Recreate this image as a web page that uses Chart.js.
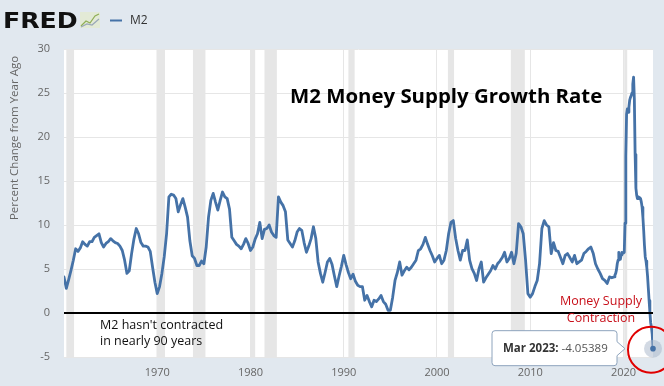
<!DOCTYPE html>
<html>
<head>
<meta charset="utf-8">
<script src="https://cdn.jsdelivr.net/npm/chart.js@4.4.0/dist/chart.umd.min.js"></script>
<style>
  html, body { margin: 0; padding: 0; background: #e1e8ef; }
  canvas { display: block; }
</style>
</head>
<body>
<canvas id="m2Chart" width="664" height="386"></canvas>
<script>
// M2 money stock, percent change from year ago
const START_YEAR = 1960;          // quarterly points, Jan / Apr / Jul / Oct
const quarterlyGrowth = [
  4.1, 2.8, 3.8, 4.85,   6.0, 7.3, 7.0, 7.4,    8.1, 7.8, 7.6, 8.1,    8.1, 8.6, 8.8, 9.0,
  8.0, 7.5, 7.9, 8.1,    8.45, 8.2, 8.0, 7.9,   7.6, 7.1, 6.0, 4.5,    4.8, 6.75, 8.4, 9.6,
  9.0, 8.0, 7.6, 7.6,    7.5, 7.0, 5.2, 3.5,    2.2, 3.0, 4.5, 6.4,    9.0, 13.2, 13.5, 13.4,
  13.0, 11.5, 12.3, 13.0, 12.0, 10.9, 8.2, 6.5, 6.2, 5.4, 5.4, 5.9,    5.6, 7.5, 10.9, 12.8,
  13.6, 12.6, 11.7, 12.8, 13.75, 13.2, 13.0, 11.8, 8.6, 8.2, 7.8, 7.6, 7.3, 7.8, 8.45, 7.9,
  7.1, 7.5, 8.4, 9.0,    10.3, 8.45, 9.5, 9.6,  10.0, 9.2, 8.8, 8.6,   13.2, 12.6, 12.2, 11.5,
  8.3, 7.9, 7.5, 8.2,    9.2, 9.6, 9.4, 8.0,    6.9, 7.6, 8.45, 9.8,   8.5, 5.8, 4.5, 3.5,
  4.6, 5.8, 6.2, 5.5,    4.2, 3.0, 4.2, 5.3,    6.55, 5.5, 4.6, 3.9,   4.4, 3.6, 3.15, 3.0,
  3.0, 1.45, 2.0, 1.3,   0.7, 1.45, 1.3, 1.6,   2.0, 1.3, 1.0, 0.3,    0.3, 1.8, 3.7, 4.6,
  5.8, 4.3, 4.8, 5.2,    4.9, 5.2, 5.6, 6.0,    7.1, 7.3, 7.8, 8.6,    7.8, 7.1, 6.5, 5.8,
  6.2, 6.55, 5.6, 6.0,   7.1, 9.0, 10.3, 10.5,  8.5, 7.1, 6.0, 7.1,    7.1, 8.3, 6.0, 5.05,
  4.5, 3.7, 5.0, 5.8,    3.5, 4.0, 4.4, 4.8,    5.4, 5.0, 5.6, 5.9,    6.3, 6.9, 5.8, 6.2,
  6.9, 5.6, 6.8, 10.15,  9.8, 9.0, 6.0, 2.2,    1.8, 2.2, 3.0, 3.7,    5.6, 9.6, 10.5, 10.0,
  9.8, 6.75, 8.0, 7.1,   7.0, 6.3, 5.6, 6.55,   6.75, 6.3, 5.8, 6.55,  5.6, 5.8, 6.0, 6.75,
  7.0, 7.3, 7.5, 6.8,    5.6, 5.0, 4.5, 3.9,    3.7, 3.35, 4.1, 4.0
];
const MONTHLY_START = 2019;       // monthly points, Jan 2019 .. Mar 2023
const monthlyGrowth = [
  4.1, 4.3, 4.5, 4.9, 5.6, 6.0, 6.9, 6.3, 6.1, 6.6, 6.9, 6.8,
  6.8, 6.9, 10.2, 17.8, 22.6, 23.2, 22.8, 23.4, 24.2, 24.5, 24.7, 25.0,
  26.0, 26.8, 24.3, 18.0, 14.2, 13.4, 13.0, 13.2, 13.0, 13.1, 13.0, 12.6,
  12.0, 10.9, 9.4, 7.7, 6.4, 5.9, 5.2, 4.2, 2.8, 1.4, 0.1, -1.1,
  -1.6, -2.4, -4.05389
];
const xTickYears = [1970, 1980, 1990, 2000, 2010, 2020];
const yTickValues = [-5, 0, 5, 10, 15, 20, 25, 30];
// NBER recessions, decimal years
const recessions = [
  [1960.25, 1961.08], [1969.92, 1970.83], [1973.83, 1975.17], [1980.0, 1980.5],
  [1981.5, 1982.83], [1990.5, 1991.17], [2001.17, 2001.83], [2007.92, 2009.42],
  [2020.08, 2020.25]
];
const lastLabel = 'Mar 2023:';
const lastText = '-4.05389';

const LINE_BLUE = '#4572a7';
const PAGE_BG = '#e1e8ef';
const GRID = '#e6e6e6';
const TEXT_GRAY = '#666';
const RED = '#c8101a';

const points = quarterlyGrowth.map((v, i) => ({ x: START_YEAR + i / 4, y: v }))
  .concat(monthlyGrowth.map((v, i) => ({ x: MONTHLY_START + i / 12, y: v })));
const lastPoint = points[points.length - 1];

// ── background, plot area, recession bars ──
const backdrop = {
  id: 'backdrop',
  beforeDraw(chart) {
    const { ctx, chartArea: a, scales: { x } } = chart;
    ctx.save();
    ctx.fillStyle = PAGE_BG;
    ctx.fillRect(0, 0, chart.width, chart.height);
    ctx.fillStyle = '#fff';
    ctx.fillRect(a.left, a.top, a.right - a.left, a.bottom - a.top);
    ctx.fillStyle = '#e6e6e6';
    recessions.forEach(([s, e]) => {
      const x1 = x.getPixelForValue(s), x2 = x.getPixelForValue(e);
      ctx.fillRect(x1, a.top, Math.max(x2 - x1, 3), a.bottom - a.top);
    });
    ctx.restore();
  }
};

// ── header, notes, highlight of the last observation ──
const overlay = {
  id: 'overlay',
  afterDraw(chart) {
    const { ctx, chartArea: a, scales: { x, y } } = chart;
    ctx.save();

    // zero line
    const y0 = y.getPixelForValue(0);
    ctx.strokeStyle = '#000';
    ctx.lineWidth = 1.8;
    ctx.beginPath();
    ctx.moveTo(a.left, y0);
    ctx.lineTo(a.right, y0);
    ctx.stroke();

    // y axis title
    ctx.save();
    ctx.translate(15, 138);
    ctx.rotate(-Math.PI / 2);
    ctx.fillStyle = TEXT_GRAY;
    ctx.font = '11.5px "Open Sans"';
    ctx.textAlign = 'center';
    ctx.textBaseline = 'middle';
    ctx.fillText('Percent Change from Year Ago', 0, 0);
    ctx.restore();

    // title
    ctx.fillStyle = '#000';
    ctx.font = 'bold 20.4px "Open Sans"';
    ctx.textAlign = 'left';
    ctx.textBaseline = 'middle';
    ctx.fillText('M2 Money Supply Growth Rate', 290, 97);

    // notes
    ctx.font = '12.5px "Open Sans"';
    ctx.fillStyle = '#111';
    ctx.fillText("M2 hasn't contracted", 100, 325);
    ctx.fillText('in nearly 90 years', 100, 341);
    ctx.fillStyle = RED;
    ctx.textAlign = 'center';
    ctx.fillText('Money Supply', 601, 301);
    ctx.fillText('Contraction', 601, 318);

    // last point marker
    const px = x.getPixelForValue(lastPoint.x), py = y.getPixelForValue(lastPoint.y);
    ctx.fillStyle = 'rgba(165,180,200,0.5)';
    ctx.beginPath(); ctx.arc(px, py, 9, 0, Math.PI * 2); ctx.fill();
    ctx.fillStyle = LINE_BLUE;
    ctx.beginPath(); ctx.arc(px, py, 2.8, 0, Math.PI * 2); ctx.fill();

    // tooltip
    const tipX = px - 28, right = tipX - 8, left = right - 125, top = py - 18, bottom = py + 17;
    ctx.beginPath();
    ctx.moveTo(left + 3, top);
    ctx.lineTo(right - 3, top);
    ctx.quadraticCurveTo(right, top, right, top + 3);
    ctx.lineTo(right, py - 7);
    ctx.lineTo(tipX, py);
    ctx.lineTo(right, py + 7);
    ctx.lineTo(right, bottom - 3);
    ctx.quadraticCurveTo(right, bottom, right - 3, bottom);
    ctx.lineTo(left + 3, bottom);
    ctx.quadraticCurveTo(left, bottom, left, bottom - 3);
    ctx.lineTo(left, top + 3);
    ctx.quadraticCurveTo(left, top, left + 3, top);
    ctx.closePath();
    ctx.fillStyle = '#fff';
    ctx.fill();
    ctx.strokeStyle = '#8ea4bd';
    ctx.lineWidth = 1;
    ctx.stroke();
    ctx.textAlign = 'left';
    ctx.font = 'bold 11.5px "Open Sans"';
    ctx.fillStyle = '#333';
    ctx.fillText(lastLabel, left + 11, py);
    const w = ctx.measureText(lastLabel + ' ').width;
    ctx.font = '11.5px "Open Sans"';
    ctx.fillStyle = '#555';
    ctx.fillText(lastText, left + 11 + w, py);

    // red circle
    ctx.strokeStyle = '#e00000';
    ctx.lineWidth = 2;
    ctx.beginPath(); ctx.arc(px - 2, py + 1, 23, 0, Math.PI * 2); ctx.stroke();

    // header: FRED logo + legend
    ctx.save();
    ctx.translate(3, 28);
    ctx.scale(1.2, 1);
    ctx.font = 'bold 21px "DejaVu Sans"';
    ctx.fillStyle = '#111';
    ctx.textBaseline = 'alphabetic';
    ctx.fillText('FRED', 0, 0);
    ctx.restore();
    ctx.fillStyle = '#e3ead6';
    ctx.fillRect(80, 12, 20, 16);
    ctx.lineWidth = 1.2;
    ctx.strokeStyle = '#8fae55';
    ctx.beginPath(); ctx.moveTo(81, 26); ctx.lineTo(86, 21); ctx.lineTo(90, 23); ctx.lineTo(95, 16); ctx.lineTo(99, 14); ctx.stroke();
    ctx.strokeStyle = '#9aa8b8';
    ctx.beginPath(); ctx.moveTo(81, 27); ctx.lineTo(87, 24); ctx.lineTo(92, 25); ctx.lineTo(99, 19); ctx.stroke();

    ctx.strokeStyle = LINE_BLUE;
    ctx.lineWidth = 2;
    ctx.beginPath(); ctx.moveTo(110, 20.5); ctx.lineTo(122, 20.5); ctx.stroke();
    ctx.fillStyle = '#333';
    ctx.font = '12px "Open Sans"';
    ctx.textBaseline = 'middle';
    ctx.fillText('M2', 130, 21);

    ctx.restore();
  }
};

new Chart(document.getElementById('m2Chart'), {
  type: 'line',
  data: {
    datasets: [{
      label: 'M2',
      data: points,
      borderColor: LINE_BLUE,
      borderWidth: 2.8,
      borderJoinStyle: 'round',
      borderCapStyle: 'round',
      pointRadius: 0,
      tension: 0,
      fill: false,
    }],
  },
  options: {
    responsive: false,
    animation: false,
    devicePixelRatio: 1,
    layout: { padding: { top: 49, right: 11, bottom: 0, left: 0 } },
    plugins: { legend: { display: false }, tooltip: { enabled: false } },
    scales: {
      x: {
        type: 'linear',
        min: START_YEAR,
        max: lastPoint.x,
        afterBuildTicks: (s) => { s.ticks = xTickYears.map(v => ({ value: v })); },
        afterFit: (s) => { s.height = 29; },
        grid: { color: GRID, drawTicks: false },
        border: { display: false },
        ticks: {
          color: TEXT_GRAY, padding: 9, maxRotation: 0,
          font: { family: 'Open Sans', size: 11 },
          callback: (v) => String(v),
        },
      },
      y: {
        min: -5, max: 30,
        afterBuildTicks: (s) => { s.ticks = yTickValues.map(v => ({ value: v })); },
        afterFit: (s) => { s.width = 64; },
        grid: { color: GRID, drawTicks: false },
        border: { display: false },
        ticks: {
          color: TEXT_GRAY, padding: 14,
          font: { family: 'Open Sans', size: 11 },
          callback: (v) => String(v),
        },
      },
    },
  },
  plugins: [backdrop, overlay],
});
</script>
</body>
</html>
